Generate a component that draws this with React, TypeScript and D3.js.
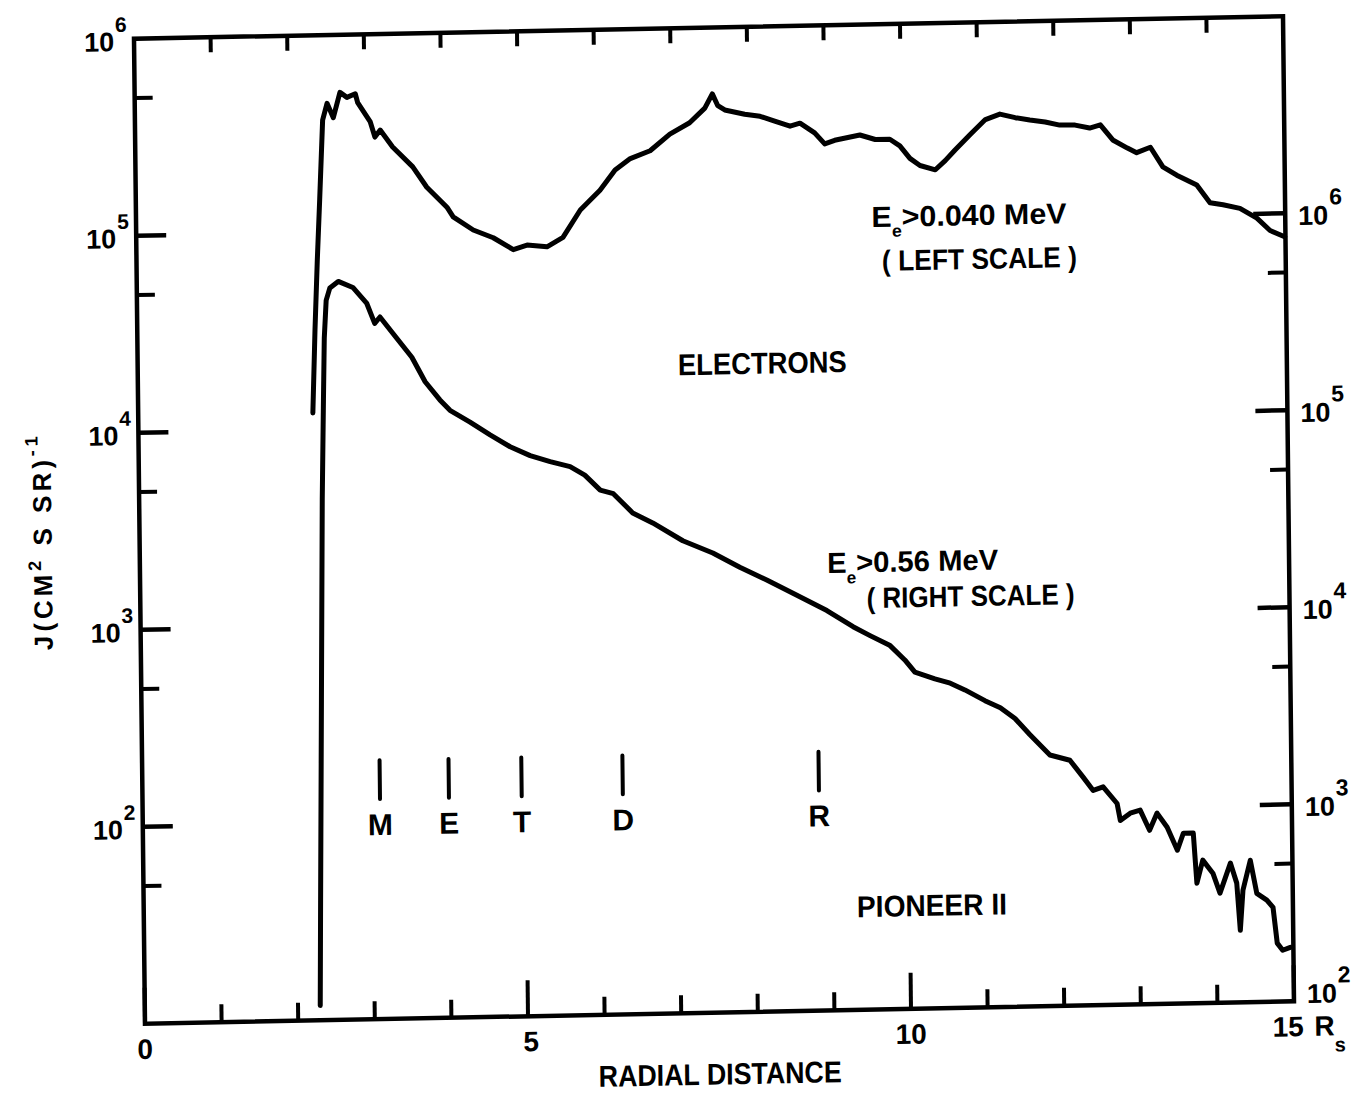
import React from 'react';
import * as d3 from 'd3';

// ---- axis definitions ----
const xMajorTicks = [0, 5, 10, 15];
const xMajorLabels = ['0', '5', '10', '15'];
const xMinorTicks = [1, 2, 3, 4, 6, 7, 8, 9, 11, 12, 13, 14];
const topTicks = [1, 2, 3, 4, 5, 6, 7, 8, 9, 10, 11, 12, 13, 14];
const leftMajor = [1e2, 1e3, 1e4, 1e5, 1e6];
const leftExp = ['2', '3', '4', '5', '6'];
const leftMinor = [5e1, 5e2, 5e3, 5e4, 5e5];
const rightMajor = [1e2, 1e3, 1e4, 1e5, 1e6];
const rightExp = ['2', '3', '4', '5', '6'];
const rightMinor = [5e2, 5e3, 5e4, 5e5];

// ---- moon markers (radial distance, Rs) ----
const moonNames = ['M', 'E', 'T', 'D', 'R'];
const moonDist = [3.1, 4.0, 4.95, 6.27, 8.83];

// ---- Electrons E > 0.040 MeV (left scale): [R (Rs), J] ----
const lowEnergy: [number, number][] = [
  [2.28, 1.21e4], [2.32, 3.2e4], [2.36, 7.2e4], [2.40, 1.46e5], [2.45, 3.7e5], [2.51, 4.5e5],
  [2.59, 3.8e5], [2.68, 5.1e5], [2.77, 4.8e5], [2.88, 5.0e5], [2.91, 4.5e5], [3.07, 3.6e5],
  [3.13, 3.0e5], [3.20, 3.25e5], [3.36, 2.66e5], [3.62, 2.1e5], [3.80, 1.65e5], [4.06, 1.30e5],
  [4.14, 1.16e5], [4.40, 9.9e4], [4.66, 9.0e4], [4.92, 7.8e4], [5.10, 8.2e4], [5.36, 8.0e4],
  [5.57, 8.9e4], [5.80, 1.22e5], [6.06, 1.53e5], [6.26, 1.93e5], [6.46, 2.2e5], [6.72, 2.4e5],
  [6.98, 2.9e5], [7.24, 3.3e5], [7.44, 3.9e5], [7.54, 4.6e5], [7.61, 4.0e5], [7.70, 3.8e5],
  [7.96, 3.6e5], [8.16, 3.5e5], [8.35, 3.3e5], [8.55, 3.1e5], [8.68, 3.2e5], [8.87, 2.85e5],
  [9.00, 2.5e5], [9.13, 2.6e5], [9.46, 2.75e5], [9.66, 2.6e5], [9.85, 2.6e5], [9.98, 2.4e5],
  [10.11, 2.07e5], [10.24, 1.9e5], [10.44, 1.8e5], [10.57, 2.0e5], [10.70, 2.26e5], [10.90, 2.7e5],
  [11.10, 3.2e5], [11.29, 3.4e5], [11.49, 3.25e5], [11.68, 3.15e5], [11.88, 3.07e5], [12.07, 2.95e5],
  [12.27, 2.94e5], [12.46, 2.83e5], [12.60, 2.93e5], [12.76, 2.45e5], [12.95, 2.22e5], [13.07, 2.1e5],
  [13.25, 2.23e5], [13.41, 1.77e5], [13.59, 1.6e5], [13.85, 1.42e5], [14.02, 1.15e5], [14.19, 1.12e5],
  [14.41, 1.07e5], [14.63, 9.5e4], [14.80, 8.2e4], [14.99, 7.6e4],
];

// ---- Electrons E > 0.56 MeV (right scale): [R (Rs), J] ----
const highEnergy: [number, number][] = [
  [2.29, 119], [2.31, 407], [2.35, 4.2e3], [2.39, 4.4e4], [2.42, 1.4e5], [2.44, 2.9e5],
  [2.47, 4.5e5], [2.52, 5.2e5], [2.63, 5.6e5], [2.82, 5.2e5], [3.00, 4.3e5], [3.10, 3.4e5],
  [3.17, 3.66e5], [3.34, 3.0e5], [3.58, 2.27e5], [3.75, 1.7e5], [3.94, 1.37e5], [4.07, 1.21e5],
  [4.33, 1.05e5], [4.59, 9.0e4], [4.85, 7.8e4], [5.11, 7.0e4], [5.37, 6.5e4], [5.63, 6.1e4],
  [5.82, 5.5e4], [6.02, 4.6e4], [6.19, 4.4e4], [6.44, 3.5e4], [6.70, 3.1e4], [7.09, 2.5e4],
  [7.48, 2.15e4], [7.83, 1.81e4], [8.18, 1.55e4], [8.52, 1.32e4], [8.96, 1.07e4], [9.30, 8.8e3],
  [9.52, 7.9e3], [9.78, 7.0e3], [9.97, 5.9e3], [10.10, 5.1e3], [10.36, 4.7e3], [10.56, 4.45e3],
  [10.75, 4.1e3], [11.01, 3.6e3], [11.21, 3.3e3], [11.40, 2.9e3], [11.59, 2.4e3], [11.85, 1.88e3],
  [12.11, 1.76e3], [12.28, 1.44e3], [12.41, 1.23e3], [12.54, 1.28e3], [12.72, 1.05e3], [12.76, 860],
  [12.89, 935], [13.02, 967], [13.14, 762], [13.24, 930], [13.37, 787], [13.50, 600],
  [13.58, 731], [13.71, 730], [13.75, 406], [13.83, 531], [13.96, 455], [14.05, 360],
  [14.19, 510], [14.27, 403], [14.31, 232], [14.35, 370], [14.45, 525], [14.53, 356],
  [14.66, 328], [14.74, 301], [14.79, 198], [14.86, 182], [14.96, 188],
];

const W = 1149;
const H = 985;
const FONT = '"Liberation Sans", Arial, sans-serif';

export default function App() {
  const x = d3.scaleLinear().domain([0, 15]).range([0, W]);
  const yL = d3.scaleLog().domain([10, 1e6]).range([H, 0]);
  const yR = d3.scaleLog().domain([1e2, 1e7]).range([H, 0]);

  const lineL = d3.line<[number, number]>().x((d) => x(d[0])).y((d) => yL(d[1]));
  const lineR = d3.line<[number, number]>().x((d) => x(d[0])).y((d) => yR(d[1]));

  const ink = '#000';
  // scanned-page skew of the original figure
  const skew = 'matrix(1,-0.01958,0.01116,1,134,38.75)';

  return (
    <svg
      width={1362}
      height={1094}
      style={{ position: 'absolute', left: 0, top: 0, background: '#fff' }}
      fontFamily={FONT}
      fontWeight="bold"
    >
      <rect x={0} y={0} width={1362} height={1094} fill="#fff" />
      <g transform={skew}>
        {/* frame */}
        <rect x={0} y={0} width={W} height={H} fill="none" stroke={ink} strokeWidth={4.5} />

        {/* top ticks */}
        {topTicks.map((t) => (
          <line key={'tt' + t} x1={x(t)} x2={x(t)} y1={0} y2={15} stroke={ink} strokeWidth={4} />
        ))}
        {/* bottom ticks */}
        {xMinorTicks.map((t) => (
          <line key={'bm' + t} x1={x(t)} x2={x(t)} y1={H} y2={H - 18} stroke={ink} strokeWidth={4} />
        ))}
        {xMajorTicks.map((t) => (
          <line key={'bM' + t} x1={x(t)} x2={x(t)} y1={H} y2={H - 36} stroke={ink} strokeWidth={4} />
        ))}
        {xMajorTicks.map((t, i) => (
          <text key={'bl' + t} x={x(t) + (t === 15 ? -6 : t === 5 ? 3 : 0)} y={H + 35} fontSize={28} textAnchor="middle" fill={ink}>
            {xMajorLabels[i]}
          </text>
        ))}
        <text x={x(15) + 20} y={H + 35} fontSize={28} fill={ink}>
          R<tspan dy={16} fontSize={20}>s</tspan>
        </text>
        <text x={W / 2} y={H + 72} fontSize={30} textAnchor="middle" textLength={243} lengthAdjust="spacingAndGlyphs" fill={ink}>
          RADIAL DISTANCE
        </text>

        {/* left axis */}
        {leftMinor.map((v) => (
          <line key={'lm' + v} x1={0} x2={18} y1={yL(v)} y2={yL(v)} stroke={ink} strokeWidth={4} />
        ))}
        {leftMajor.map((v, i) => (
          <g key={'lM' + v} transform={`translate(0,${yL(v)})`}>
            {i < leftMajor.length - 1 && <line x1={0} x2={30} y1={0} y2={0} stroke={ink} strokeWidth={4.5} />}
            <text x={-50} y={12} fontSize={27} fill={ink}>
              10<tspan dx={1} dy={-19} fontSize={21}>{leftExp[i]}</tspan>
            </text>
          </g>
        ))}

        {/* right axis */}
        {rightMinor.map((v) => (
          <line key={'rmn' + v} x1={W} x2={W - 18} y1={yR(v)} y2={yR(v)} stroke={ink} strokeWidth={4} />
        ))}
        {rightMajor.map((v, i) => (
          <g key={'rM' + v} transform={`translate(${W},${yR(v)})`}>
            {i > 0 && <line x1={0} x2={-32} y1={0} y2={0} stroke={ink} strokeWidth={4.5} />}
            <text x={13} y={i === 0 ? 2 : 12} fontSize={27} fill={ink}>
              10<tspan dx={1} dy={-20} fontSize={23}>{rightExp[i]}</tspan>
            </text>
          </g>
        ))}

        {/* y-axis title */}
        <text
          transform={`translate(-88,${H / 2 + 8}) rotate(-90)`}
          textAnchor="middle"
          fontSize={26}
          letterSpacing={4}
          fill={ink}
        >
          J(CM<tspan dy={-11} fontSize={18}>2</tspan>
          <tspan dy={11}> S SR)</tspan>
          <tspan dy={-13} fontSize={18}>-1</tspan>
        </text>

        {/* moon markers */}
        {moonDist.map((m, i) => (
          <g key={'moon' + i}>
            <line x1={x(m)} x2={x(m)} y1={yL(206)} y2={yL(131)} stroke={ink} strokeWidth={4} strokeLinecap="round" />
            <text x={x(m)} y={yL(86)} fontSize={30} textAnchor="middle" fill={ink}>{moonNames[i]}</text>
          </g>
        ))}

        {/* curves */}
        <path d={lineL(lowEnergy) || ''} fill="none" stroke={ink} strokeWidth={5} strokeLinejoin="round" strokeLinecap="round" />
        <path d={lineR(highEnergy) || ''} fill="none" stroke={ink} strokeWidth={5} strokeLinejoin="round" strokeLinecap="round" />

        {/* annotations */}
        <text x={x(9.6)} y={yL(9.35e4)} fontSize={29} textLength={195} lengthAdjust="spacingAndGlyphs" fill={ink}>
          E<tspan dy={10} fontSize={17}>e</tspan><tspan dy={-10}>&gt;0.040 MeV</tspan>
        </text>
        <text x={x(9.73)} y={yL(5.6e4)} fontSize={29} textLength={195} lengthAdjust="spacingAndGlyphs" fill={ink}>
          ( LEFT SCALE )
        </text>

        <text x={x(7.05)} y={yL(1.73e4)} fontSize={30} textLength={169} lengthAdjust="spacingAndGlyphs" fill={ink}>
          ELECTRONS
        </text>

        <text x={x(8.97)} y={yR(1.66e4)} fontSize={29} textLength={171} lengthAdjust="spacingAndGlyphs" fill={ink}>
          E<tspan dy={11} fontSize={17}>e</tspan><tspan dy={-11}>&gt;0.56 MeV</tspan>
        </text>
        <text x={x(9.48)} y={yR(1.09e4)} fontSize={29} textLength={208} lengthAdjust="spacingAndGlyphs" fill={ink}>
          ( RIGHT SCALE )
        </text>

        <text x={x(9.31)} y={yL(29.5)} fontSize={30} textLength={150} lengthAdjust="spacingAndGlyphs" fill={ink}>
          PIONEER II
        </text>
      </g>
    </svg>
  );
}
